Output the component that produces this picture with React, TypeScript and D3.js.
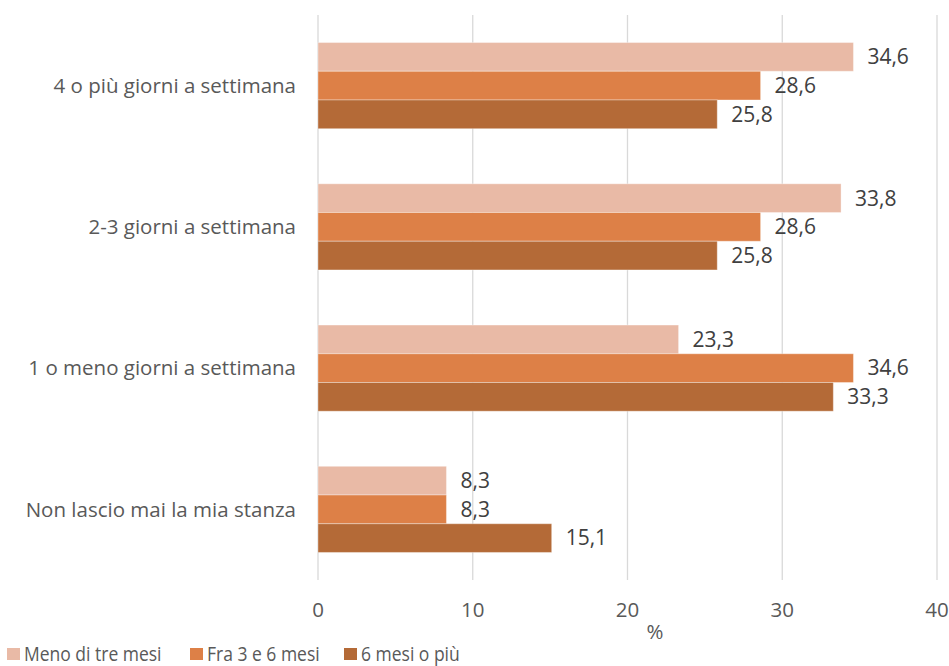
import React, { useEffect, useRef } from "react"
import * as d3 from "d3"

const categories = [
  "4 o più giorni a settimana",
  "2-3 giorni a settimana",
  "1 o meno giorni a settimana",
  "Non lascio mai la mia stanza",
]
const seriesNames = ["Meno di tre mesi", "Fra 3 e 6 mesi", "6 mesi o più"]
const menoDiTre = [34.6, 33.8, 23.3, 8.3]
const fra3e6 = [28.6, 28.6, 34.6, 8.3]
const seiOPiu = [25.8, 25.8, 33.3, 15.1]
const xTicks = [0, 10, 20, 30, 40]
const colors = ["#E9BAA6", "#DD8047", "#B46A37"]

const W = 949
const H = 666
const FONT = "'Open Sans', sans-serif"

export default function App() {
  const ref = useRef<SVGSVGElement>(null)

  useEffect(() => {
    const svg = d3.select(ref.current)
    svg.selectAll("*").remove()

    const values = [menoDiTre, fra3e6, seiOPiu]
    const x = d3.scaleLinear().domain([0, 40]).range([318, 937])
    const y = d3.scaleBand().domain(categories).range([15, 580]).paddingInner(0.39).paddingOuter(0.195)
    const inner = d3.scaleBand().domain(seriesNames).range([0, y.bandwidth()])

    // gridlines
    svg.append("g")
      .selectAll("line")
      .data(xTicks)
      .join("line")
      .attr("x1", d => x(d))
      .attr("x2", d => x(d))
      .attr("y1", 15)
      .attr("y2", 580)
      .attr("stroke", "#D9D9D9")
      .attr("stroke-width", 1.3)

    const groups = svg.append("g")
      .selectAll("g")
      .data(seriesNames)
      .join("g")
      .attr("fill", (d, i) => colors[i])

    groups.selectAll("rect")
      .data((s, si) => categories.map((c, ci) => ({ c, s, v: values[si][ci] })))
      .join("rect")
      .attr("x", x(0))
      .attr("y", d => y(d.c)! + inner(d.s)!)
      .attr("width", d => x(d.v) - x(0))
      .attr("height", inner.bandwidth())
      .attr("stroke", "#fff")
      .attr("stroke-opacity", 0.35)
      .attr("stroke-width", 1)

    // value labels
    groups.selectAll("text")
      .data((s, si) => categories.map((c, ci) => ({ c, s, v: values[si][ci] })))
      .join("text")
      .attr("x", d => x(d.v) + 14)
      .attr("y", d => y(d.c)! + inner(d.s)! + inner.bandwidth() / 2)
      .attr("dy", "0.35em")
      .attr("fill", "#404040")
      .attr("font-family", FONT)
      .attr("font-size", 21)
      .text(d => d3.format(".1f")(d.v).replace(".", ","))

    // category labels
    svg.append("g")
      .selectAll("text")
      .data(categories)
      .join("text")
      .attr("x", 296)
      .attr("y", d => y(d)! + y.bandwidth() / 2)
      .attr("dy", "0.35em")
      .attr("text-anchor", "end")
      .attr("fill", "#595959")
      .attr("font-family", FONT)
      .attr("font-size", 20.5)
      .text(d => d)

    // x tick labels
    svg.append("g")
      .selectAll("text")
      .data(xTicks)
      .join("text")
      .attr("x", d => x(d))
      .attr("y", 610)
      .attr("dy", "0.35em")
      .attr("text-anchor", "middle")
      .attr("fill", "#595959")
      .attr("font-family", FONT)
      .attr("font-size", 20.5)
      .text(d => d)

    svg.append("text")
      .attr("x", 655)
      .attr("y", 632)
      .attr("dy", "0.35em")
      .attr("text-anchor", "middle")
      .attr("fill", "#595959")
      .attr("font-family", FONT)
      .attr("font-size", 20.5)
      .text("%")

    // legend
    const legendX = [7, 190, 344]
    const legend = svg.append("g")
      .selectAll("g")
      .data(seriesNames)
      .join("g")
      .attr("transform", (d, i) => `translate(${legendX[i]},654)`)
    legend.append("rect")
      .attr("x", 0)
      .attr("y", -6)
      .attr("width", 13)
      .attr("height", 12)
      .attr("fill", (d, i) => colors[i])
    legend.append("text")
      .attr("transform", "translate(17,0) scale(0.875,1)")
      .attr("dy", "0.35em")
      .attr("fill", "#595959")
      .attr("font-family", FONT)
      .attr("font-size", 20)
      .text(d => d)
  }, [])

  return <svg ref={ref} width={W} height={H} style={{ position: "absolute", left: 0, top: 0 }} />
}
